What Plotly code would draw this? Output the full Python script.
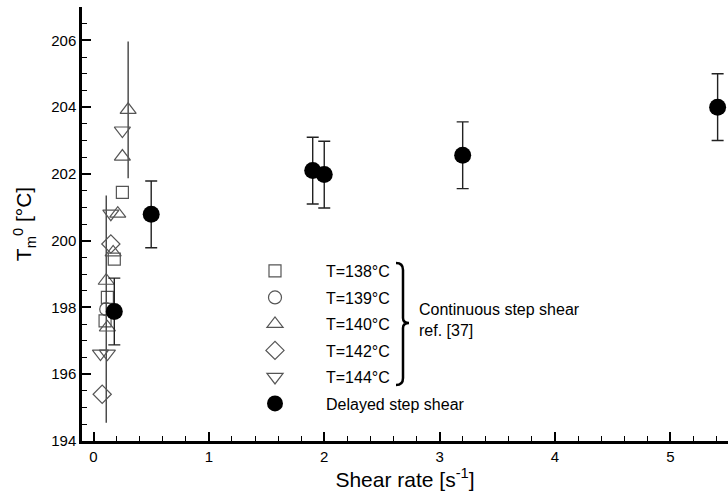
import plotly.graph_objects as go

# ---------------- data ----------------
x138 = [0.25, 0.18, 0.12, 0.10]
y138 = [201.45, 199.45, 198.30, 197.60]

x139 = [0.11]
y139 = [197.95]
e139 = [3.4]

x140 = [0.30, 0.25, 0.21, 0.17, 0.11, 0.12]
y140 = [203.92, 202.52, 200.81, 199.65, 198.80, 197.40]
e140 = [2.05, 0, 0, 0, 0, 0]

x142 = [0.15, 0.075]
y142 = [199.90, 195.40]

x144 = [0.25, 0.15, 0.06, 0.12]
y144 = [203.30, 200.81, 196.62, 196.62]

x_del = [0.18, 0.50, 1.90, 2.00, 3.20, 5.41]
y_del = [197.88, 200.79, 202.10, 201.98, 202.56, 204.00]
e_del = [1.0, 1.0, 1.0, 1.0, 1.0, 1.0]

# ---------------- figure ----------------
W, H = 728, 497
ML, MR, MT, MB = 82, 0, 7, 56
PW, PH = W - ML - MR, H - MT - MB

def px(xp):
    return (xp - ML) / PW

def py(yp):
    return (H - MB - yp) / PH

grey = "#555555"
fig = go.Figure()

def open_trace(xs, ys, sym, name, size, err=None, g=""):
    kw = {}
    if err is not None:
        kw["error_y"] = dict(type="data", array=err, visible=True, color="#333333",
                             thickness=1.3, width=0)
    fig.add_trace(go.Scatter(
        x=xs, y=ys, mode="markers", name=name, legendgroup=g,
        marker=dict(symbol=sym, size=size, color=grey,
                    line=dict(color=grey, width=1.2)),
        **kw))

open_trace(x138, y138, "square-open", "T=138°C", 12, g="a")
open_trace(x139, y139, "circle-open", "T=139°C", 13, err=e139, g="b")
open_trace(x140, y140, "triangle-up-open", "T=140°C", 14, err=e140, g="c")
open_trace(x142, y142, "diamond-open", "T=142°C", 14, g="d")
open_trace(x144, y144, "triangle-down-open", "T=144°C", 14, g="e")

fig.add_trace(go.Scatter(
    x=x_del, y=y_del, mode="markers", name="Delayed step shear", legendgroup="f",
    marker=dict(symbol="circle", size=17, color="black"),
    error_y=dict(type="data", array=e_del, visible=True, color="#222222",
                 thickness=1.4, width=6)))

axis_common = dict(showline=True, linecolor="black", linewidth=2.5, mirror=False,
                   ticks="inside", ticklen=9, tickwidth=2, tickcolor="black",
                   showgrid=False, zeroline=False,
                   tickfont=dict(family="Liberation Sans, Arial", size=15, color="black"))

fig.update_xaxes(range=[-0.1, 5.5], tick0=0, dtick=1,
                 minor=dict(ticks="inside", ticklen=5, tickwidth=1, dtick=0.2, tick0=0,
                            tickcolor="black"),
                 title=dict(text="Shear rate [s<sup>-1</sup>]",
                            font=dict(family="Liberation Sans, Arial", size=21, color="black"),
                            standoff=8),
                 **axis_common)
fig.update_yaxes(range=[194, 207], tick0=194, dtick=2,
                 minor=dict(ticks="inside", ticklen=5, tickwidth=1, dtick=0.5, tick0=194,
                            tickcolor="black"),
                 title=dict(text="T<sub>m</sub><sup>0</sup> [°C]",
                            font=dict(family="Liberation Sans, Arial", size=21, color="black"),
                            standoff=14),
                 **axis_common)

# brace for the continuous-step-shear group
bx, bxl, bxt = 403, 396, 409
y0b, ymb, y1b = 263, 323, 385
path = (f"M {px(bxl)},{py(y0b)} Q {px(bx)},{py(y0b)} {px(bx)},{py(y0b+7)} "
        f"L {px(bx)},{py(ymb-5)} Q {px(bx)},{py(ymb)} {px(bxt)},{py(ymb)} "
        f"Q {px(bx)},{py(ymb)} {px(bx)},{py(ymb+5)} "
        f"L {px(bx)},{py(y1b-7)} Q {px(bx)},{py(y1b)} {px(bxl)},{py(y1b)}")
fig.add_shape(type="path", xref="paper", yref="paper", path=path,
              line=dict(color="black", width=2.5))

fig.add_annotation(xref="paper", yref="paper", x=px(417), y=py(320),
                   xanchor="left", yanchor="middle", align="left", showarrow=False,
                   text="Continuous step shear<br>ref. [37]",
                   font=dict(family="Liberation Sans, Arial", size=16, color="black"))

fig.update_layout(
    width=W, height=H,
    margin=dict(l=ML, r=MR, t=MT, b=MB),
    plot_bgcolor="white", paper_bgcolor="white",
    showlegend=True,
    legend=dict(x=px(224), y=py(254), xanchor="left", yanchor="top",
                bgcolor="rgba(0,0,0,0)", itemwidth=92, traceorder="grouped",
                tracegroupgap=2.7,
                font=dict(family="Liberation Sans, Arial", size=16, color="black")),
)

fig.write_html("out.html")
